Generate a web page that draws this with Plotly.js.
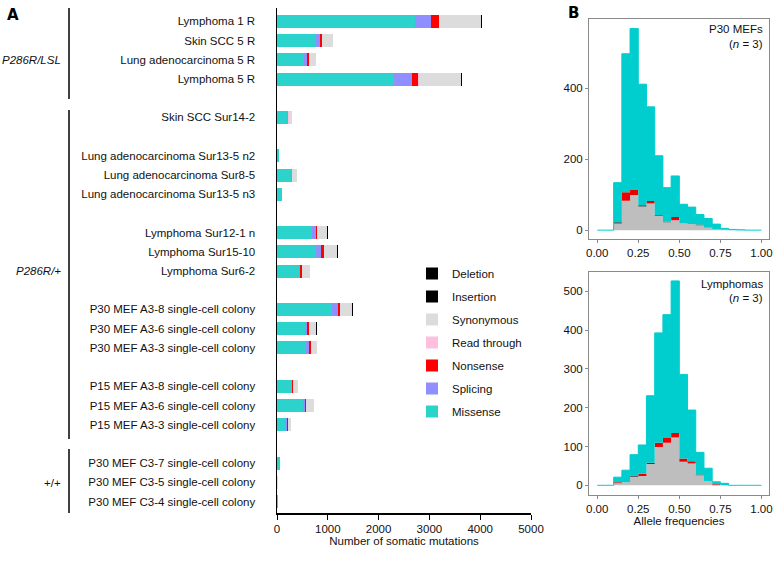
<!DOCTYPE html>
<html>
<head>
<meta charset="utf-8">
<script src="https://cdn.plot.ly/plotly-3.0.1.min.js"></script>
<style>body{margin:0;background:#fff}#grafico{width:784px;height:561px}</style>
</head>
<body>
<div id="grafico"></div>
<script>
// panel A: samples, in subgroups (a blank row between subgroups)
const muestras = [
  "Lymphoma 1 R","Skin SCC 5 R","Lung adenocarcinoma 5 R","Lymphoma 5 R",
  "Skin SCC Sur14-2",
  "Lung adenocarcinoma Sur13-5 n2","Lung adenocarcinoma Sur8-5","Lung adenocarcinoma Sur13-5 n3",
  "Lymphoma Sur12-1 n","Lymphoma Sur15-10","Lymphoma Sur6-2",
  "P30 MEF A3-8 single-cell colony","P30 MEF A3-6 single-cell colony","P30 MEF A3-3 single-cell colony",
  "P15 MEF A3-8 single-cell colony","P15 MEF A3-6 single-cell colony","P15 MEF A3-3 single-cell colony",
  "P30 MEF C3-7 single-cell colony","P30 MEF C3-5 single-cell colony","P30 MEF C3-4 single-cell colony"
];
const tamSubgrupos = [4,1,3,3,3,3,3];

const missense    = [2720,760,535,2310, 200, 35,280,95, 680,765,435, 1080,545,565, 290,515,185, 60,8,12];
const splicing    = [310,80,55,340, 10, 0,10,0, 80,110,25, 120,40,60, 10,40,15, 0,0,0];
const nonsense    = [150,50,30,130, 15, 2,12,3, 20,45,25, 40,35,35, 15,20,15, 2,0,0];
const readThrough = [10,5,3,10, 2, 0,2,0, 3,3,2, 3,2,2, 1,2,1, 0,0,0];
const synonymous  = [820,205,150,840, 75, 5,90,10, 210,260,160, 240,155,120, 90,150,55, 5,2,3];
const insertion   = [15,3,2,8, 1, 0,1,0, 1,4,1, 3,1,1, 0,1,0, 0,0,0];
const deletion    = [20,4,2,12, 1, 0,1,0, 2,4,1, 3,1,1, 1,1,1, 0,0,0];

// panel B: allele frequency bins (left edges + closing edge)
const bordesBin = [0,0.05,0.10,0.15,0.20,0.25,0.30,0.35,0.40,0.45,0.50,0.55,0.60,0.65,0.70,0.75,0.80,0.85,0.90,0.95,1.00];

const mefSin   = [0,0,19,83,99,67,75,40,22,28,19,17,14,7,2,1,0,0,0,0,0];
const mefIndel = [0,0,3,0,0,3,0,2,2,0,0,0,2,0,0,0,0,0,0,0,0];
const mefNons  = [0,0,0,24,14,0,7,0,0,9,0,0,0,0,0,0,0,0,0,0,0];
const mefMiss  = [0,0,112,391,456,342,266,168,96,116,54,48,28,26,15,4,2,1,0,0,0];

const linSin   = [0,0,5,8,22,24,55,99,110,123,61,56,26,11,0,0,0,0,0,0,0];
const linIndel = [0,0,0,0,3,0,3,0,0,0,0,0,2,0,0,0,0,0,0,0,0];
const linNons  = [0,0,3,0,0,6,0,11,12,12,8,6,0,0,3,0,0,0,0,0,0];
const linMiss  = [0,0,13,31,54,74,173,283,318,392,217,132,57,33,6,5,0,0,0,0,0];

const W=784,H=561;
const px = x => x/W;
const py = y => 1-y/H;
const fuente = "Liberation Sans, Arial, sans-serif";

// row positions with a gap between subgroups
let posiciones=[], p=0;
for (let g of tamSubgrupos){
  for (let i=0;i<g;i++){ posiciones.push(p); p++; }
  p++;
}

function barra(nombre,valores,color,rango){
  return {type:'bar',orientation:'h',name:nombre,x:valores,y:posiciones,width:0.68,
    marker:{color:color,line:{width:0}},legendgroup:nombre,legendrank:rango,xaxis:'x',yaxis:'y',hoverinfo:'x+name'};
}
function capa(valores,color,grupo,ejes,ancho){
  return {type:'scatter',mode:'lines',x:bordesBin,y:valores,stackgroup:grupo,
    line:{shape:'hv',color:color,width:ancho},fillcolor:color,showlegend:false,
    xaxis:ejes[0],yaxis:ejes[1]};
}

let datos = [
  barra("Missense",missense,"#2cd3cc",7),
  barra("Splicing",splicing,"#8f8fff",6),
  barra("Nonsense",nonsense,"#ff0000",5),
  barra("Read through",readThrough,"#ffbfdf",4),
  barra("Synonymous",synonymous,"#dcdcdc",3),
  barra("Insertion",insertion,"#000000",2),
  barra("Deletion",deletion,"#000000",1),
  capa(mefSin,"#bebebe","mef",['x2','y2'],0),
  capa(mefIndel,"#333333","mef",['x2','y2'],0),
  capa(mefNons,"#ee0000","mef",['x2','y2'],0),
  capa(mefMiss,"#00cdcd","mef",['x2','y2'],1),
  capa(linSin,"#bebebe","lin",['x3','y3'],0),
  capa(linIndel,"#333333","lin",['x3','y3'],0),
  capa(linNons,"#ee0000","lin",['x3','y3'],0),
  capa(linMiss,"#00cdcd","lin",['x3','y3'],1)
];

const ejeHist = {showgrid:false,zeroline:false,showline:true,mirror:true,linecolor:'#8a8a8a',linewidth:1,
  ticks:'outside',ticklen:3,tickcolor:'#8a8a8a',tickfont:{size:11.5,color:'#111'}};

let layout = {
  width:W,height:H,margin:{l:0,r:0,t:0,b:0},
  paper_bgcolor:'#fff',plot_bgcolor:'rgba(0,0,0,0)',
  font:{family:fuente,size:11.5,color:'#111'},
  barmode:'stack',bargap:0,
  showlegend:true,
  legend:{x:px(412),y:py(259),xanchor:'left',yanchor:'top',traceorder:'grouped',
    tracegroupgap:4,font:{size:11.5,color:'#111'},bgcolor:'rgba(0,0,0,0)'},
  xaxis:{domain:[px(277),px(531)],range:[0,5000],dtick:1000,showgrid:false,zeroline:false,
    showline:true,linecolor:'#000',linewidth:1.5,ticks:'outside',ticklen:5,tickcolor:'#000',
    tickfont:{size:11.5},title:{text:'Number of somatic mutations',font:{size:11.5},standoff:2},anchor:'y'},
  yaxis:{domain:[py(513),py(8)],range:[25.6,-0.7],tickvals:posiciones,ticktext:muestras,
    showgrid:false,zeroline:false,showline:true,linecolor:'#000',linewidth:1.5,ticks:'',
    ticklabelstandoff:18,tickfont:{size:11.5},anchor:'x'},
  xaxis2:Object.assign({},ejeHist,{domain:[px(589),px(769)],range:[-0.05,1.046],tickvals:[0,0.25,0.5,0.75,1],
    tickformat:'.2f',anchor:'y2'}),
  yaxis2:Object.assign({},ejeHist,{domain:[py(239),py(19)],range:[-25,596],tickvals:[0,200,400],anchor:'x2'}),
  xaxis3:Object.assign({},ejeHist,{domain:[px(589),px(769)],range:[-0.05,1.046],tickvals:[0,0.25,0.5,0.75,1],
    tickformat:'.2f',anchor:'y3',title:{text:'Allele frequencies',font:{size:11.5},standoff:2}}),
  yaxis3:Object.assign({},ejeHist,{domain:[py(495),py(272)],range:[-25,550],dtick:100,anchor:'x3'}),
  shapes:[
    {type:'line',xref:'paper',yref:'paper',x0:px(69),x1:px(69),y0:py(8),y1:py(99),line:{color:'#000',width:1.5}},
    {type:'line',xref:'paper',yref:'paper',x0:px(69),x1:px(69),y0:py(110),y1:py(439),line:{color:'#000',width:1.5}},
    {type:'line',xref:'paper',yref:'paper',x0:px(69),x1:px(69),y0:py(449),y1:py(513),line:{color:'#000',width:1.5}}
  ],
  annotations:[
    {text:'<b>A</b>',x:px(5),y:py(15),xanchor:'left',font:{size:15,family:'DejaVu Sans, sans-serif',color:'#000'}},
    {text:'<b>B</b>',x:px(566),y:py(13),xanchor:'left',font:{size:15,family:'DejaVu Sans, sans-serif',color:'#000'}},
    {text:'<i>P286R/LSL</i>',x:px(63),y:py(60),xanchor:'right'},
    {text:'<i>P286R/+</i>',x:px(63),y:py(271),xanchor:'right'},
    {text:'+/+',x:px(63),y:py(483),xanchor:'right'},
    {text:'P30 MEFs',x:px(765),y:py(29),xanchor:'right'},
    {text:'(<i>n</i> = 3)',x:px(765),y:py(44),xanchor:'right'},
    {text:'Lymphomas',x:px(765),y:py(284),xanchor:'right'},
    {text:'(<i>n</i> = 3)',x:px(765),y:py(298),xanchor:'right'}
  ].map(a=>Object.assign({xref:'paper',yref:'paper',showarrow:false,yanchor:'middle',font:{size:11.5,color:'#111'}},a))
};

Plotly.newPlot('grafico',datos,layout,{displayModeBar:false,staticPlot:true});
</script>
</body>
</html>
